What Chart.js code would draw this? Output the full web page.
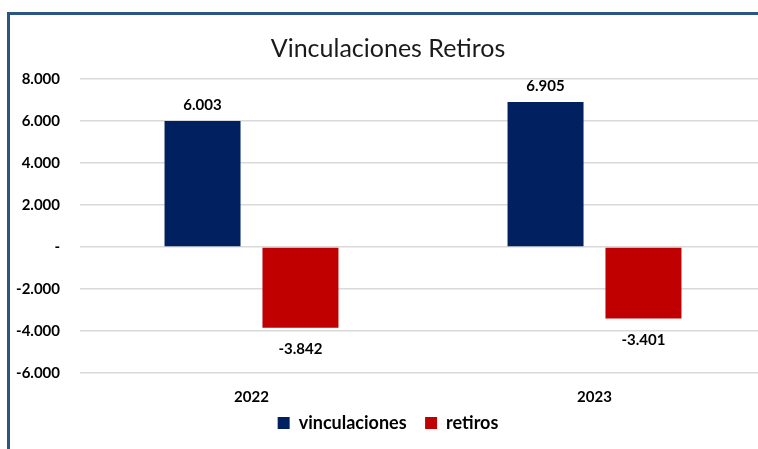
<!DOCTYPE html>
<html><head><meta charset="utf-8">
<script src="https://cdn.jsdelivr.net/npm/chart.js@4/dist/chart.umd.min.js"></script>
<style>
html,body{margin:0;padding:0;background:#fff;width:758px;height:449px;overflow:hidden;}
#frame{position:absolute;left:7px;top:12px;width:790px;height:460px;border-left:3px solid #2b5582;border-top:3px solid #2b5582;}
#wrap{position:absolute;left:0;top:0;width:756px;height:434px;}
</style></head>
<body>
<div id="frame"><div id="wrap"><canvas id="c" width="756" height="434"></canvas></div></div>
<script>
const categories = ["2022", "2023"];
const vinculaciones = [6003, 6905];
const retiros = [-3842, -3401];
const yTicks = [8000, 6000, 4000, 2000, 0, -2000, -4000, -6000];
const seriesNames = ["vinculaciones", "retiros"];
const chartTitle = "Vinculaciones Retiros";

const FONT = "Lato, 'Open Sans', sans-serif";
function fmt(v){
  if (v === 0) return "-";
  const s = Math.abs(v).toString().replace(/\B(?=(\d{3})+(?!\d))/g, ".");
  return (v < 0 ? "-" : "") + s;
}
const labelPlugin = {
  id: "barLabels",
  afterDatasetsDraw(chart){
    const ctx = chart.ctx;
    ctx.save();
    ctx.font = "bold 15px " + FONT;
    ctx.fillStyle = "#000";
    ctx.textAlign = "center";
    chart.data.datasets.forEach((ds, di) => {
      chart.getDatasetMeta(di).data.forEach((bar, i) => {
        const v = ds.data[i];
        if (v >= 0) { ctx.textBaseline = "bottom"; ctx.fillText(fmt(v), bar.x, bar.y - 8); }
        else { ctx.textBaseline = "top"; ctx.fillText(fmt(v), bar.x, bar.y + 14); }
      });
    });
    ctx.restore();
  }
};
new Chart(document.getElementById("c"), {
  type: "bar",
  data: {
    labels: categories,
    datasets: [
      { label: seriesNames[0], data: vinculaciones, backgroundColor: "#002060", barPercentage: 0.776, categoryPercentage: 0.571 },
      { label: seriesNames[1], data: retiros, backgroundColor: "#C00000", barPercentage: 0.776, categoryPercentage: 0.571 }
    ]
  },
  options: {
    responsive: false,
    animation: false,
    layout: { padding: { left: 0, right: 0, top: 0, bottom: 7 } },
    plugins: {
      title: { display: true, text: chartTitle, color: "#1a1a1a", font: { family: FONT, size: 25, weight: "normal" }, padding: { top: 19, bottom: 15 } },
      legend: {
        position: "bottom",
        labels: {
          boxWidth: 12, boxHeight: 12, padding: 1, color: "#000",
          font: { family: FONT, size: 18, weight: "bold" },
          generateLabels(chart){
            const items = Chart.defaults.plugins.legend.labels.generateLabels(chart);
            items.forEach((it, i) => { if (i < items.length - 1) it.text = it.text + "    "; });
            return items;
          }
        }
      },
      tooltip: { enabled: false }
    },
    scales: {
      x: {
        grid: { display: false },
        border: { display: false },
        ticks: { color: "#000", font: { family: FONT, size: 15, weight: "bold" }, padding: 7 }
      },
      y: {
        min: -6000, max: 8000,
        afterFit(scale){ scale.width = 70; },
        afterBuildTicks(scale){ scale.ticks = yTicks.map(v => ({ value: v })); },
        border: { display: false },
        grid: { color: "#d9d9d9", lineWidth: 1.5, drawTicks: false },
        ticks: { color: "#000", padding: 20, font: { family: FONT, size: 15, weight: "bold" }, callback: v => fmt(v) }
      }
    }
  },
  plugins: [labelPlugin]
});
</script>
</body></html>
